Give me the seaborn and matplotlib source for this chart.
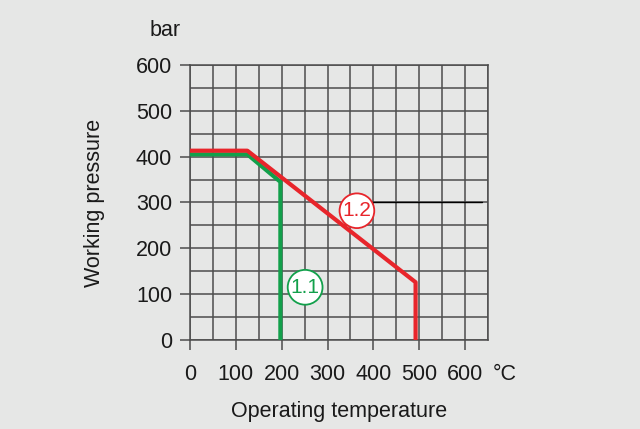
import matplotlib
matplotlib.use("Agg")
import matplotlib.pyplot as plt
import seaborn as sns
import pandas as pd
from matplotlib.ticker import MultipleLocator

# curve data (temperature in °C, pressure in bar)
temp_11 = [0, 125, 197, 197]
press_11 = [405, 405, 345, 0]
temp_12 = [0, 125, 492, 492]
press_12 = [413, 413, 126, 0]

# label positions and the leader line next to 1.2
label_11 = (251, 115)
label_12 = (364, 282)
leader_x = [382, 638]
leader_y = [300, 300]

x_ticks = [0, 100, 200, 300, 400, 500, 600]
y_ticks = [0, 100, 200, 300, 400, 500, 600]

bg = "#e6e7e6"
grid_c = "#4d4d4d"
red = "#e8252b"
green = "#12a04b"
txt = "#1a1a1a"

sns.set_theme(style="white", rc={"axes.facecolor": bg, "figure.facecolor": bg})
plt.rcParams["font.family"] = ["Liberation Sans", "DejaVu Sans"]

df11 = pd.DataFrame({"temp": temp_11, "press": press_11})
df12 = pd.DataFrame({"temp": temp_12, "press": press_12})

fig = plt.figure(figsize=(6.4, 4.29), dpi=100)
ax = fig.add_axes([0.297, 0.2075, 0.4655, 0.641])

sns.lineplot(data=df11, x="temp", y="press", sort=False, estimator=None,
             color=green, lw=3.0, ax=ax, zorder=3)
sns.lineplot(data=df12, x="temp", y="press", sort=False, estimator=None,
             color=red, lw=3.0, ax=ax, zorder=4)
ax.plot(leader_x, leader_y, color="black", lw=1.0, zorder=2)

ax.set_xlim(0, 650)
ax.set_ylim(0, 600)
ax.set_xticks(x_ticks)
ax.set_yticks(y_ticks)
ax.xaxis.set_minor_locator(MultipleLocator(50))
ax.yaxis.set_minor_locator(MultipleLocator(50))
ax.grid(True, which="both", color=grid_c, lw=1.1, zorder=1)
ax.set_axisbelow(True)
for s in ax.spines.values():
    s.set_color(grid_c)
    s.set_linewidth(1.1)
ax.tick_params(axis="both", which="major", length=7, width=1.1, color=grid_c,
               labelsize=15.5, labelcolor=txt, direction="out",
               bottom=True, left=True)
ax.tick_params(axis="x", which="major", pad=10)
ax.tick_params(axis="y", which="major", pad=6)
ax.tick_params(axis="both", which="minor", length=0)

ax.set_xlabel("Operating temperature", fontsize=15.5, color=txt, labelpad=12)
ax.set_ylabel("Working pressure", fontsize=15.5, color=txt, labelpad=22)
ax.text(-0.135, 1.125, "bar", transform=ax.transAxes, fontsize=15.5, color=txt,
        ha="left", va="center")
ax.text(1.057, -0.086, "°C", transform=ax.transAxes, fontsize=15.5, color=txt,
        ha="center", va="top")

ax.text(*label_12, "1.2", fontsize=15, color=red, ha="center", va="center", zorder=5,
        bbox=dict(boxstyle="circle,pad=0.14", fc="white", ec=red, lw=1.3))
ax.text(*label_11, "1.1", fontsize=15, color=green, ha="center", va="center", zorder=5,
        bbox=dict(boxstyle="circle,pad=0.14", fc="white", ec=green, lw=1.3))

fig.savefig("out.png", dpi=100, facecolor=bg)
